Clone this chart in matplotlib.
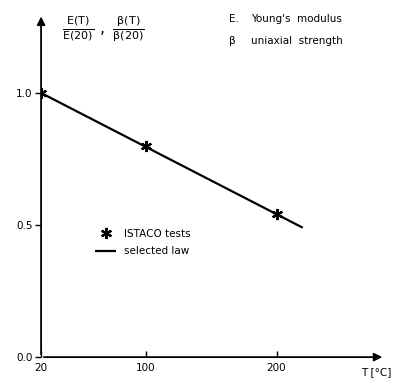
import matplotlib.pyplot as plt
import numpy as np

# data
test_T = [20, 100, 200]
test_ratio = [1.0, 0.80, 0.54]
law_T = [20, 220]
law_ratio = [1.0, 0.49]
x_ticks = [20, 100, 200]
y_ticks = [0.0, 0.5, 1.0]
y_ticklabels = ['0.0', '0.5', '1.0']

plt.rcParams['mathtext.fontset'] = 'dejavusans'

fig = plt.figure(figsize=(3.95, 3.92), dpi=100)
ax = fig.add_axes([0.104, 0.089, 0.871, 0.876])
ax.set_xlim(20, 283)
ax.set_ylim(0, 1.30)

for s in ax.spines.values():
    s.set_visible(False)

# axes drawn as arrows
ax.annotate('', xy=(1.0, 0), xycoords='axes fraction', xytext=(0, 0),
            arrowprops=dict(arrowstyle='-|>', color='black', lw=1.3, mutation_scale=12))
ax.annotate('', xy=(0, 1.0), xycoords='axes fraction', xytext=(0, 0),
            arrowprops=dict(arrowstyle='-|>', color='black', lw=1.3, mutation_scale=12))

ax.plot(law_T, law_ratio, color='black', lw=1.6, solid_capstyle='butt')
ax.plot(test_T, test_ratio, ls='none', marker=(6, 2, 0), ms=8, mew=1.6, color='black')

ax.set_xticks(x_ticks)
ax.set_yticks(y_ticks)
ax.set_yticklabels(y_ticklabels)
ax.tick_params(axis='x', direction='in', length=4, width=1, labelsize=7.5, pad=4)
ax.tick_params(axis='y', direction='out', length=4, width=1, labelsize=7.5, pad=2)

ax.text(0.93, -0.045, 'T [°C]', transform=ax.transAxes, fontsize=7.5, va='center', ha='left')

ax.text(0.06, 0.955,
        r'$\frac{\mathrm{E(T)}}{\mathrm{E(20)}}\ ,\ \frac{\mathrm{\beta(T)}}{\mathrm{\beta(20)}}$',
        transform=ax.transAxes, fontsize=11.5, va='center', ha='left')
ax.text(0.545, 0.985, 'E.', transform=ax.transAxes, fontsize=7.5, va='center')
ax.text(0.61, 0.985, "Young's  modulus", transform=ax.transAxes, fontsize=7.5, va='center')
ax.text(0.545, 0.92, 'β', transform=ax.transAxes, fontsize=7.5, va='center')
ax.text(0.61, 0.92, 'uniaxial  strength', transform=ax.transAxes, fontsize=7.5, va='center')

ax.legend(['selected law', 'ISTACO tests'], loc='upper left',
          bbox_to_anchor=(0.13, 0.40), frameon=False, fontsize=7.5,
          handlelength=2.0, handletextpad=0.8, labelspacing=0.7, reverse=True)

fig.savefig('out.png', dpi=100)
